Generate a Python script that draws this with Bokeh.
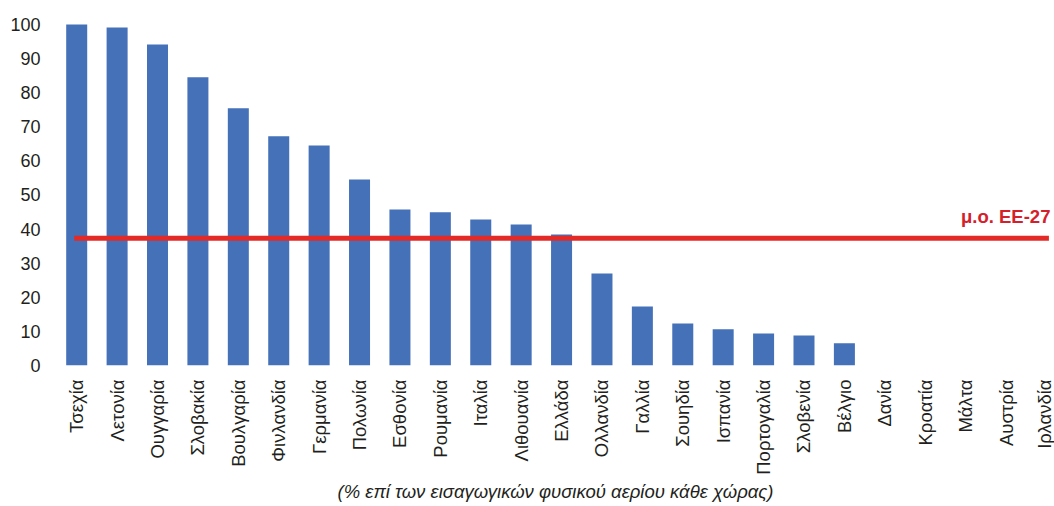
from bokeh.plotting import figure
from bokeh.models import Range1d, FixedTicker, Label, ColumnDataSource
from bokeh.embed import file_html
from bokeh.resources import INLINE
import math

countries = ["Τσεχία", "Λετονία", "Ουγγαρία", "Σλοβακία", "Βουλγαρία", "Φινλανδία",
             "Γερμανία", "Πολωνία", "Εσθονία", "Ρουμανία", "Ιταλία", "Λιθουανία",
             "Ελλάδα", "Ολλανδία", "Γαλλία", "Σουηδία", "Ισπανία", "Πορτογαλία",
             "Σλοβενία", "Βέλγιο", "Δανία", "Κροατία", "Μάλτα", "Αυστρία", "Ιρλανδία"]
shares = [100.0, 99.1, 94.1, 84.5, 75.4, 67.2, 64.5, 54.5, 45.7, 44.9, 42.8, 41.3,
          38.4, 27.0, 17.3, 12.3, 10.6, 9.4, 8.8, 6.5, 0, 0, 0, 0, 0]
eu_avg = 37.3
avg_label = "μ.ο. ΕΕ-27"
caption = "(% επί των εισαγωγικών φυσικού αερίου κάθε χώρας)"
y_ticks = [0, 10, 20, 30, 40, 50, 60, 70, 80, 90, 100]

FONT = "Liberation Sans"
TXT = "#231f20"

idx = list(range(len(countries)))
src = ColumnDataSource(dict(x=idx, top=shares, name=countries))

p = figure(width=1054, height=506, output_backend="svg", toolbar_location=None,
           x_range=Range1d(-0.5, 24.2), y_range=Range1d(0, 102.9),
           min_border_left=56, min_border_right=0, min_border_top=14,
           min_border_bottom=141)
p.outline_line_color = None
p.grid.grid_line_color = None
p.background_fill_color = "white"

p.vbar(x="x", top="top", bottom=0, width=0.52, source=src,
       fill_color="#4571b8", line_color=None)

p.line(x=[idx[0], idx[-1]], y=[eu_avg, eu_avg], line_color="#e42a27",
       line_width=5, line_cap="square")

p.add_layout(Label(x=idx[-1], y=eu_avg, text=avg_label, x_offset=4, y_offset=11,
                   text_align="right", text_baseline="bottom",
                   text_color="#d4202a", text_font=FONT, text_font_size="18.5px",
                   text_font_style="bold"))

xa = p.xaxis[0]
xa.ticker = FixedTicker(ticks=idx)
xa.major_label_overrides = {i: c for i, c in zip(idx, countries)}
xa.major_label_orientation = math.pi / 2
xa.axis_line_color = None
xa.major_tick_line_color = None
xa.minor_tick_line_color = None
xa.major_tick_out = 0
xa.major_label_standoff = 14
xa.major_label_text_font = FONT
xa.major_label_text_font_size = "18.5px"
xa.major_label_text_color = TXT
xa.axis_label = caption
xa.axis_label_text_font = FONT
xa.axis_label_text_font_size = "18.5px"
xa.axis_label_text_font_style = "italic"
xa.axis_label_text_color = TXT
xa.axis_label_standoff = 3

ya = p.yaxis[0]
ya.ticker = FixedTicker(ticks=y_ticks)
ya.axis_line_color = None
ya.major_tick_line_color = None
ya.minor_tick_line_color = None
ya.major_tick_out = 0
ya.major_label_standoff = 16
ya.major_label_text_font = FONT
ya.major_label_text_font_size = "18px"
ya.major_label_text_color = TXT

open("out.html", "w").write(file_html(p, INLINE))
